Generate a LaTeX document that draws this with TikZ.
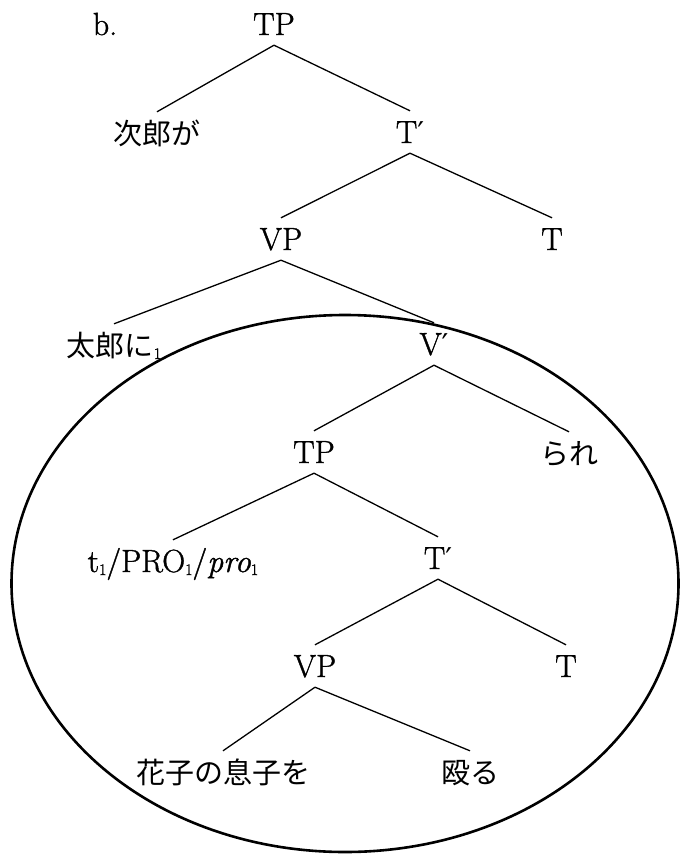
\documentclass[tikz,border=0pt]{standalone}
\usepackage{fontspec}
\setmainfont{Latin Modern Roman}[FakeBold=1.2]
\newfontfamily\jpfont{Noto Sans CJK JP}
\newfontfamily\primefont{DejaVu Serif}
\newcommand\latsize{\fontsize{32}{38}\selectfont}
\newcommand\sbn[1]{\raisebox{-3pt}{\fontsize{16}{16}\selectfont #1}}
\newcommand\prm{{\primefont\fontsize{30}{30}\selectfont ′}}
\tikzset{
  lab/.style={inner xsep=0pt, inner ysep=10pt, text height=22pt, text depth=0pt, font=\latsize},
  jlab/.style={lab, font=\jpfont\fontsize{29}{36}\selectfont},
  branch/.style={line width=1.3pt},
  ring/.style={line width=2.6pt}
}
\begin{document}
\begin{tikzpicture}[x=1pt,y=-1pt]
\useasboundingbox (0,0) rectangle (680,854);
\fill[white] (0,0) rectangle (680,854);
% ellipse
\draw[ring] (345,583.5) ellipse [x radius=333.5, y radius=268.5];
% label
\node[lab] (ex) at (105,24) {b.};
% nodes
\node[lab] (tpA) at (274,24) {TP};
\node[jlab] (jiro) at (157,133) {次郎が};
\node[lab] (tbA) at (410,132) {T\prm};
\node[lab] (vpA) at (281,239) {VP};
\node[lab] (tA) at (552,239) {T};
\node[lab] (taro) at (114,345) {{\jpfont\fontsize{29}{36}\selectfont 太郎に}\sbn{1}};
\node[lab] (vbar) at (434,344) {V\prm};
\node[lab] (tpB) at (314,452) {TP};
\node[jlab] (rare) at (569,453) {られ};
\node[lab] (trace) at (173,561) {t\sbn{1}/PRO\sbn{1}/\textit{pro}\sbn{1}};
\node[lab] (tbB) at (438,558) {T\prm};
\node[lab] (vpB) at (315,666) {VP};
\node[lab] (tB) at (566,666) {T};
\node[jlab] (hanako) at (223,772) {花子の息子を};
\node[jlab] (naguru) at (470,772) {殴る};
% branches
\draw[branch] (tpA.south) -- (jiro.north);
\draw[branch] (tpA.south) -- (tbA.north);
\draw[branch] (tbA.south) -- (vpA.north);
\draw[branch] (tbA.south) -- (tA.north);
\draw[branch] (vpA.south) -- (taro.north);
\draw[branch] (vpA.south) -- (vbar.north);
\draw[branch] (vbar.south) -- (tpB.north);
\draw[branch] (vbar.south) -- (rare.north);
\draw[branch] (tpB.south) -- (trace.north);
\draw[branch] (tpB.south) -- (tbB.north);
\draw[branch] (tbB.south) -- (vpB.north);
\draw[branch] (tbB.south) -- (tB.north);
\draw[branch] (vpB.south) -- (hanako.north);
\draw[branch] (vpB.south) -- (naguru.north);
\end{tikzpicture}
\end{document}
